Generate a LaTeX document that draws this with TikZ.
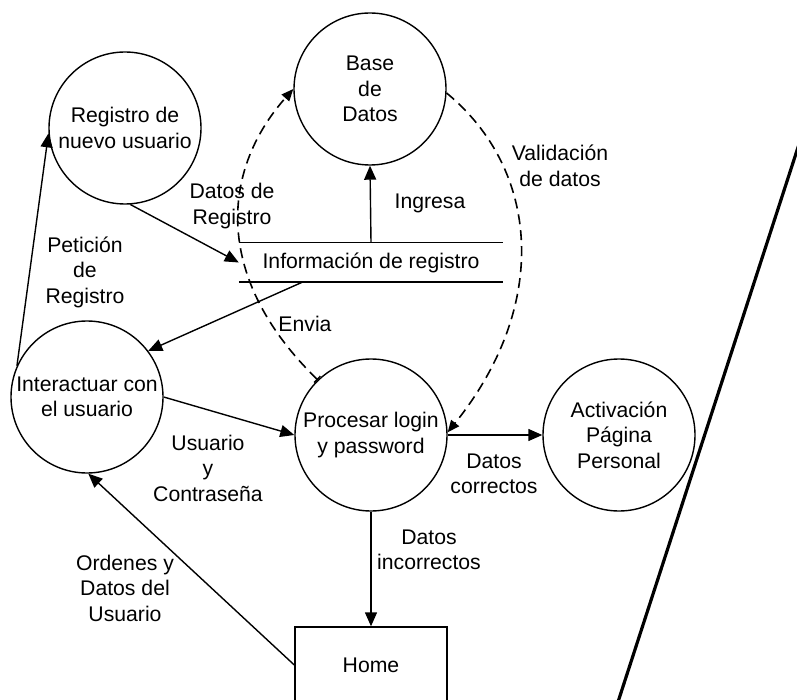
\documentclass[tikz,border=0pt]{standalone}
\usepackage{fontspec}
\setmainfont{Liberation Sans}
\usetikzlibrary{arrows.meta,calc}
\begin{document}
\begin{tikzpicture}[x=1pt,y=-1pt,
  font=\fontsize{21.2}{25.5}\selectfont,
  bubble/.style={draw, circle, line width=1.4pt, minimum size=152pt, inner sep=0pt, align=center},
  flow/.style={line width=1.4pt, -{Triangle[length=14pt,width=12pt]}},
  dflow/.style={line width=1.6pt, dash pattern=on 10pt off 6pt},
  lbl/.style={align=center, inner sep=0pt}]
\useasboundingbox (0,0) rectangle (797,700);
\fill[white] (0,0) rectangle (797,700);

% processes
\node[bubble] (bd) at (370,89) {Base\\de\\Datos};
\node[bubble] (reg) at (125,128) {Registro de\\nuevo usuario};
\node[bubble] (inter) at (87,397) {Interactuar con\\el usuario};
\node[bubble] (proc) at (371,435) {Procesar login\\y password};
\node[bubble] (act) at (619,435) {Activación\\Página\\Personal};
\node[draw, line width=1.4pt, minimum width=152pt, minimum height=76pt, inner sep=0pt] (home) at (371,665) {Home};

% data store
\node[minimum width=264pt, minimum height=39pt, inner sep=0pt] (info) at (371,262.5) {Información de registro};
\draw[line width=1.4pt] (info.north west) -- (info.north east);
\draw[line width=1.4pt] (info.south west) -- (info.south east);
\coordinate (envstart) at ($(info.south west)!0.24!(info.south east)$);

% flows
\draw[flow] (info.north) -- (bd.south);
\draw[flow] (reg.-86) -- (info.west);
\draw[flow] (envstart) -- (inter.37);
\draw[flow] (inter.156) -- (reg.184);
\draw[flow] (inter.east) -- (proc.west);
\draw[flow] (home.west) -- (inter.-89);
\draw[flow] (proc.south) -- (home.north);
\draw[flow] (proc.east) -- (act.west);

% dashed flows
\draw[dflow, {Bar[width=9pt,line width=1.4pt]}-{Triangle[length=12pt,width=10pt]}]
  (proc.134) .. controls (215,280) and (219,173) .. (bd.180);
\draw[dflow, -{Triangle[length=12pt,width=10pt]}]
  (bd.-3) .. controls (540,170) and (550,305) .. (proc.2);

% labels
\node[lbl] (l1) at (430,203) {Ingresa};
\node[lbl] (l2) at (232,206) {Datos de\\Registro};
\node[lbl] (l3) at (85,272) {Petición\\de\\Registro};
\node[lbl] (l4) at (305,324) {Envia};
\node[lbl] (l5) at (208,468) {Usuario\\y\\Contraseña};
\node[lbl] (l6) at (125,588) {Ordenes y\\Datos del\\Usuario};
\node[lbl] (l7) at (429,550) {Datos\\incorrectos};
\node[lbl] (l8) at (494,474) {Datos\\correctos};
\node[lbl] (l9) at (560,166) {Validación\\de datos};

% diagonal separator
\coordinate (d1) at (802,135);
\coordinate (d2) at (617,705);
\draw[line width=3.2pt] (d1) -- (d2);
\end{tikzpicture}
\end{document}
